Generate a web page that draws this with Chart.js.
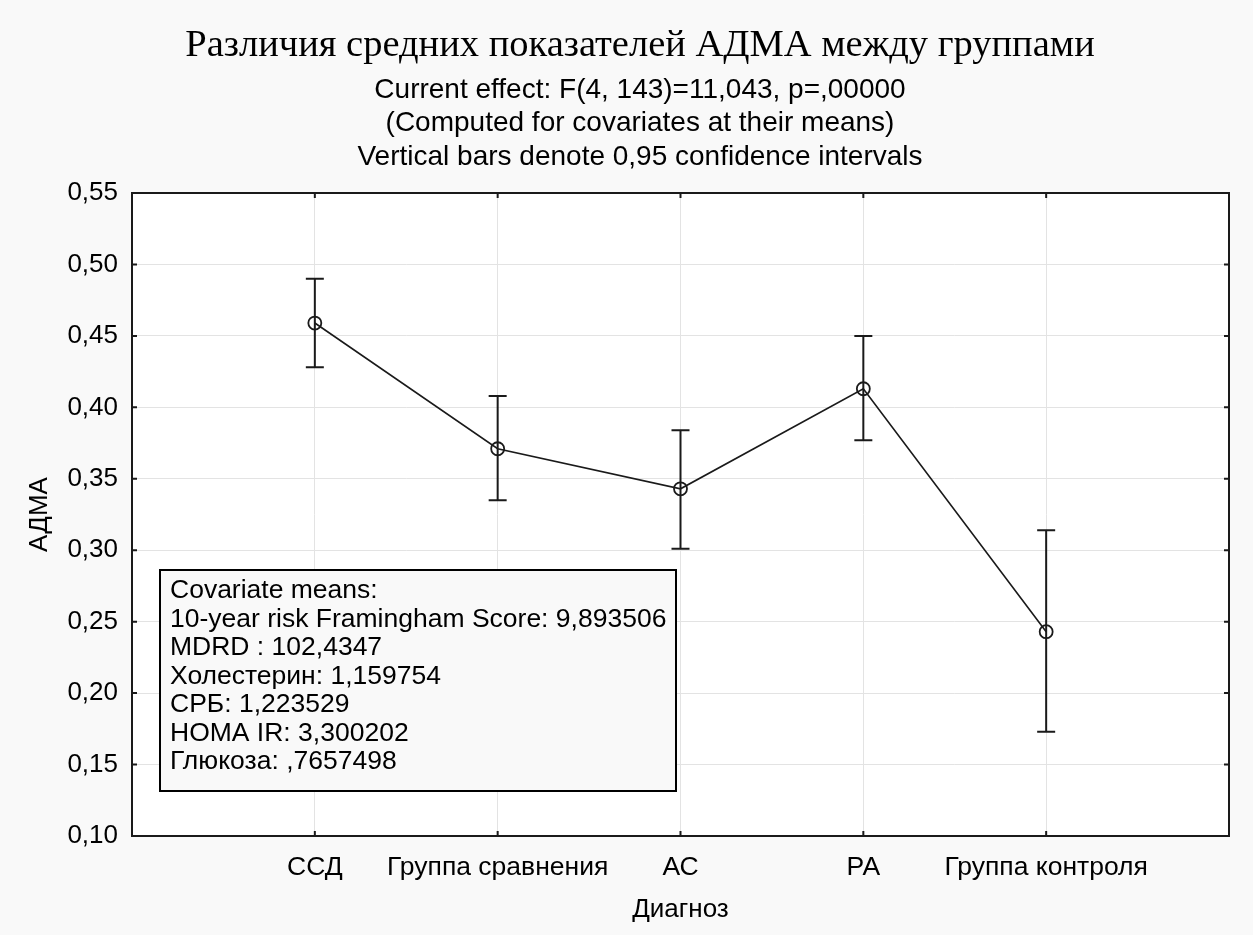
<!DOCTYPE html>
<html>
<head>
<meta charset="utf-8">
<script src="https://cdn.jsdelivr.net/npm/chart.js@4/dist/chart.umd.min.js"></script>
<style>
  html, body { margin: 0; padding: 0; background: #f9f9f9; }
  #wrap { width: 1253px; height: 935px; }
</style>
</head>
<body>
<div id="wrap"><canvas id="chart" width="1253" height="935"></canvas></div>
<script>
// Groups along the x axis
const categories = ['ССД', 'Группа сравнения', 'АС', 'РА', 'Группа контроля'];
// Adjusted ADMA means and 95% confidence limits per group
const means = [0.459, 0.371, 0.343, 0.413, 0.243];
const lowerCI = [0.428, 0.335, 0.301, 0.377, 0.173];
const upperCI = [0.490, 0.408, 0.384, 0.450, 0.314];
// Y axis range and step
const yMin = 0.10, yMax = 0.55, yStep = 0.05;

const titleText = 'Различия средних показателей АДМА между группами';
const subtitleLines = [
  'Current effect: F(4, 143)=11,043, p=,00000',
  '(Computed for covariates at their means)',
  'Vertical bars denote 0,95 confidence intervals'
];
const covariateLines = [
  'Covariate means:',
  '10-year risk Framingham Score: 9,893506',
  'MDRD : 102,4347',
  'Холестерин: 1,159754',
  'СРБ: 1,223529',
  'HOMA IR: 3,300202',
  'Глюкоза: ,7657498'
];

const SANS = '"Liberation Sans", Arial, sans-serif';
const SERIF = '"Liberation Serif", "Times New Roman", serif';
const INK = '#1a1a1a';

const statsDecor = {
  id: 'statsDecor',
  beforeDraw(chart) {
    const { ctx, chartArea: a } = chart;
    ctx.save();
    ctx.fillStyle = '#f9f9f9';
    ctx.fillRect(0, 0, chart.width, chart.height);
    ctx.fillStyle = '#ffffff';
    ctx.fillRect(a.left, a.top, a.right - a.left, a.bottom - a.top);
    ctx.restore();
  },
  afterDatasetsDraw(chart) {
    // confidence interval whiskers
    const { ctx } = chart;
    const xs = chart.scales.x, ys = chart.scales.y;
    ctx.save();
    ctx.strokeStyle = INK;
    ctx.lineWidth = 2;
    const cap = 9;
    means.forEach((m, i) => {
      const x = xs.getPixelForValue(i + 1);
      const yt = ys.getPixelForValue(upperCI[i]);
      const yb = ys.getPixelForValue(lowerCI[i]);
      ctx.beginPath();
      ctx.moveTo(x, yt); ctx.lineTo(x, yb);
      ctx.moveTo(x - cap, yt); ctx.lineTo(x + cap, yt);
      ctx.moveTo(x - cap, yb); ctx.lineTo(x + cap, yb);
      ctx.stroke();
    });
    ctx.restore();
  },
  afterDraw(chart) {
    const { ctx, chartArea: a } = chart;
    const xs = chart.scales.x, ys = chart.scales.y;
    ctx.save();
    // frame
    ctx.strokeStyle = INK;
    ctx.lineWidth = 2;
    ctx.strokeRect(a.left, a.top, a.right - a.left, a.bottom - a.top);
    // inward tick marks on all four sides
    const tl = 5;
    ctx.beginPath();
    categories.forEach((c, i) => {
      const x = xs.getPixelForValue(i + 1);
      ctx.moveTo(x, a.bottom); ctx.lineTo(x, a.bottom - tl);
      ctx.moveTo(x, a.top); ctx.lineTo(x, a.top + tl);
    });
    for (let v = yMin; v <= yMax + 1e-9; v += yStep) {
      const y = ys.getPixelForValue(v);
      ctx.moveTo(a.left, y); ctx.lineTo(a.left + tl, y);
      ctx.moveTo(a.right, y); ctx.lineTo(a.right - tl, y);
    }
    ctx.stroke();

    // headings
    ctx.fillStyle = '#000';
    ctx.textAlign = 'center';
    ctx.textBaseline = 'middle';
    ctx.font = '38.5px ' + SERIF;
    ctx.fillText(titleText, 640, 46);
    ctx.font = '28px ' + SANS;
    subtitleLines.forEach((t, i) => ctx.fillText(t, 640, 90 + i * 33.5));

    // covariate box
    const bx = 160, by = 570, bw = 516, bh = 221;
    ctx.fillStyle = '#f9f9f9';
    ctx.fillRect(bx, by, bw, bh);
    ctx.strokeStyle = '#000';
    ctx.lineWidth = 2;
    ctx.strokeRect(bx, by, bw, bh);
    ctx.fillStyle = '#000';
    ctx.textAlign = 'left';
    ctx.font = '26.5px ' + SANS;
    covariateLines.forEach((t, i) => ctx.fillText(t, bx + 10, by + 21 + i * 28.5));
    ctx.restore();
  }
};

new Chart(document.getElementById('chart'), {
  type: 'line',
  data: {
    datasets: [{
      data: means.map((m, i) => ({ x: i + 1, y: m })),
      borderColor: INK,
      borderWidth: 1.6,
      pointRadius: 6.5,
      pointHoverRadius: 6.5,
      pointBorderWidth: 1.8,
      pointBorderColor: INK,
      pointBackgroundColor: 'rgba(0,0,0,0)',
      tension: 0
    }]
  },
  options: {
    responsive: false,
    animation: false,
    devicePixelRatio: 1,
    layout: { padding: { top: 193, right: 24, left: 0, bottom: 0 } },
    plugins: { legend: { display: false }, tooltip: { enabled: false } },
    scales: {
      x: {
        type: 'linear',
        min: 0, max: categories.length + 1,
        afterFit(s) { s.height = 99; },
        afterBuildTicks(s) {
          s.ticks = categories.map((c, i) => ({ value: i + 1 }));
        },
        border: { display: false },
        grid: { color: '#e3e3e3', lineWidth: 1, drawTicks: false },
        ticks: {
          padding: 16,
          maxRotation: 0,
          autoSkip: false,
          color: '#000',
          font: { family: SANS, size: 26.5 },
          callback: (v) => categories[v - 1] || ''
        },
        title: {
          display: true, text: 'Диагноз', color: '#000',
          font: { family: SANS, size: 26 },
          padding: { top: 0, bottom: 10 }
        }
      },
      y: {
        min: yMin, max: yMax,
        afterFit(s) { s.width = 132; },
        border: { display: false },
        grid: { color: '#e3e3e3', lineWidth: 1, drawTicks: false },
        ticks: {
          stepSize: yStep,
          padding: 14,
          color: '#000',
          font: { family: SANS, size: 26 },
          callback: (v) => v.toFixed(2).replace('.', ',')
        },
        title: {
          display: true, text: 'АДМА', color: '#000',
          font: { family: SANS, size: 26 },
          padding: { top: 24, bottom: 0 }
        }
      }
    }
  },
  plugins: [statsDecor]
});
</script>
</body>
</html>
